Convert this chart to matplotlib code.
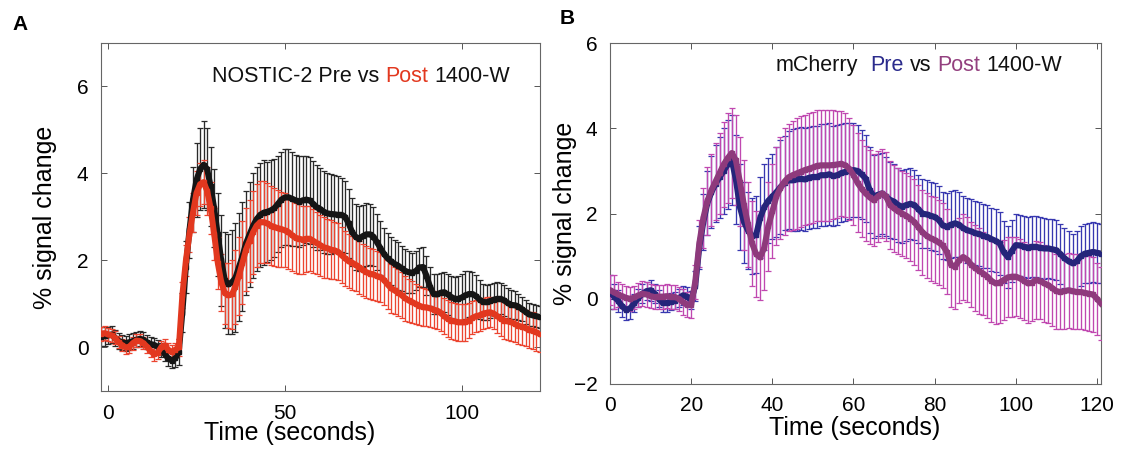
import matplotlib
matplotlib.use("Agg")
import matplotlib.pyplot as plt
import numpy as np

plt.rcParams['font.family'] = ['Liberation Sans', 'DejaVu Sans']

# ---- panel A : NOSTIC-2, time -2..122 s ----
time_a = np.arange(-2, 123)
a_pre = [0.25, 0.26, 0.28, 0.30, 0.22, 0.15, 0.12, 0.10, 0.12, 0.15,
         0.18, 0.20, 0.18, 0.12, 0.08, 0.06, 0.02, -0.05, -0.15, -0.25,
         -0.30, -0.25, -0.10, 0.80, 1.85, 2.70, 3.40, 3.85, 4.10, 4.20,
         4.10, 3.70, 3.20, 2.60, 2.00, 1.55, 1.45, 1.50, 1.60, 1.85,
         2.10, 2.40, 2.60, 2.80, 2.95, 3.05, 3.10, 3.12, 3.15, 3.20,
         3.30, 3.40, 3.45, 3.45, 3.42, 3.38, 3.35, 3.38, 3.40, 3.38,
         3.30, 3.22, 3.18, 3.12, 3.08, 3.07, 3.06, 3.05, 3.05, 3.00,
         2.85, 2.65, 2.54, 2.50, 2.56, 2.60, 2.60, 2.55, 2.42, 2.28,
         2.15, 2.05, 1.98, 1.92, 1.88, 1.82, 1.76, 1.73, 1.72, 1.76,
         1.84, 1.85, 1.65, 1.40, 1.23, 1.22, 1.26, 1.27, 1.22, 1.16,
         1.12, 1.12, 1.15, 1.20, 1.23, 1.23, 1.18, 1.10, 1.05, 1.04,
         1.07, 1.10, 1.12, 1.12, 1.08, 1.02, 0.98, 0.97, 0.94, 0.88,
         0.82, 0.76, 0.74, 0.72, 0.70]
a_post = [0.32, 0.33, 0.30, 0.28, 0.22, 0.12, 0.05, 0.00, 0.02, 0.10,
          0.16, 0.15, 0.10, 0.02, -0.08, -0.15, -0.12, 0.00, 0.05, -0.05,
          -0.10, -0.05, 0.00, 1.20, 2.00, 2.60, 3.10, 3.55, 3.75, 3.80,
          3.60, 3.20, 2.60, 1.95, 1.50, 1.25, 1.20, 1.22, 1.40, 1.65,
          1.95, 2.25, 2.45, 2.65, 2.80, 2.88, 2.88, 2.85, 2.80, 2.77,
          2.74, 2.72, 2.69, 2.65, 2.58, 2.52, 2.50, 2.48, 2.50, 2.50,
          2.45, 2.40, 2.35, 2.30, 2.28, 2.25, 2.23, 2.20, 2.12, 2.05,
          1.98, 1.95, 1.90, 1.84, 1.78, 1.73, 1.70, 1.68, 1.64, 1.62,
          1.55, 1.45, 1.36, 1.31, 1.26, 1.20, 1.13, 1.08, 1.04, 1.00,
          0.96, 0.93, 0.92, 0.90, 0.87, 0.85, 0.80, 0.72, 0.66, 0.62,
          0.60, 0.58, 0.58, 0.58, 0.62, 0.68, 0.72, 0.74, 0.78, 0.80,
          0.81, 0.78, 0.72, 0.66, 0.62, 0.60, 0.58, 0.54, 0.50, 0.48,
          0.45, 0.40, 0.39, 0.35, 0.31]
a_pre_err = [0.22, 0.22, 0.20, 0.20, 0.18, 0.18, 0.17, 0.17, 0.18, 0.18,
             0.18, 0.17, 0.17, 0.16, 0.16, 0.15, 0.15, 0.16, 0.17, 0.18,
             0.18, 0.20, 0.30, 0.45, 0.60, 0.65, 0.75, 0.85, 0.95, 1.00,
             0.95, 0.90, 0.90, 0.95, 1.05, 1.10, 1.15, 1.20, 1.25, 1.25,
             1.25, 1.20, 1.20, 1.20, 1.20, 1.20, 1.20, 1.15, 1.15, 1.12,
             1.10, 1.10, 1.10, 1.10, 1.08, 1.05, 1.05, 1.02, 1.00, 1.00,
             0.98, 0.97, 0.95, 0.94, 0.93, 0.92, 0.90, 0.88, 0.85, 0.82,
             0.80, 0.78, 0.75, 0.74, 0.72, 0.72, 0.70, 0.68, 0.65, 0.62,
             0.60, 0.58, 0.55, 0.55, 0.55, 0.52, 0.50, 0.48, 0.46, 0.45,
             0.45, 0.45, 0.45, 0.45, 0.45, 0.46, 0.46, 0.46, 0.47, 0.48,
             0.50, 0.52, 0.55, 0.55, 0.52, 0.50, 0.48, 0.45, 0.42, 0.40,
             0.40, 0.38, 0.38, 0.36, 0.35, 0.34, 0.33, 0.32, 0.30, 0.28,
             0.27, 0.26, 0.25, 0.25, 0.25]
a_post_err = [0.16, 0.16, 0.15, 0.15, 0.15, 0.14, 0.14, 0.14, 0.15, 0.15,
              0.15, 0.15, 0.14, 0.14, 0.14, 0.15, 0.15, 0.15, 0.15, 0.15,
              0.15, 0.16, 0.20, 0.30, 0.35, 0.40, 0.45, 0.50, 0.50, 0.50,
              0.55, 0.60, 0.60, 0.60, 0.65, 0.70, 0.75, 0.80, 0.85, 0.90,
              0.95, 0.95, 0.95, 0.95, 0.95, 0.95, 0.95, 0.92, 0.90, 0.90,
              0.88, 0.86, 0.85, 0.84, 0.82, 0.80, 0.80, 0.78, 0.76, 0.75,
              0.74, 0.72, 0.70, 0.70, 0.68, 0.67, 0.66, 0.65, 0.64, 0.63,
              0.62, 0.62, 0.61, 0.60, 0.60, 0.60, 0.59, 0.58, 0.58, 0.57,
              0.57, 0.56, 0.56, 0.55, 0.54, 0.53, 0.52, 0.50, 0.48, 0.46,
              0.45, 0.44, 0.43, 0.42, 0.42, 0.42, 0.42, 0.42, 0.42, 0.42,
              0.42, 0.42, 0.42, 0.42, 0.40, 0.38, 0.36, 0.35, 0.35, 0.35,
              0.35, 0.36, 0.38, 0.40, 0.42, 0.42, 0.42, 0.42, 0.42, 0.42,
              0.42, 0.42, 0.42, 0.42, 0.42]

# ---- panel B : mCherry, time 0..121 s ----
time_b = np.arange(0, 122)
b_pre = [0.15, 0.05, -0.05, -0.18, -0.26, -0.22, -0.10, 0.02, 0.12, 0.18,
         0.20, 0.12, 0.00, -0.10, -0.10, -0.07, -0.05, 0.02, 0.08, 0.05,
         -0.03, 0.30, 1.20, 1.80, 2.25, 2.50, 2.70, 2.85, 3.00, 3.15,
         3.25, 2.80, 2.15, 1.80, 1.60, 1.47, 1.50, 1.90, 2.15, 2.30,
         2.40, 2.50, 2.62, 2.72, 2.78, 2.78, 2.80, 2.82, 2.80, 2.84,
         2.86, 2.86, 2.90, 2.90, 2.92, 2.88, 2.90, 2.95, 2.98, 3.00,
         3.02, 3.00, 2.92, 2.82, 2.55, 2.40, 2.44, 2.47, 2.40, 2.32,
         2.28, 2.20, 2.16, 2.20, 2.23, 2.20, 2.10, 2.00, 1.98, 1.95,
         1.92, 1.85, 1.72, 1.69, 1.74, 1.77, 1.74, 1.66, 1.61, 1.58,
         1.54, 1.52, 1.48, 1.45, 1.40, 1.36, 1.30, 1.10, 0.98, 1.12,
         1.26, 1.25, 1.22, 1.20, 1.22, 1.22, 1.20, 1.18, 1.18, 1.16,
         1.14, 1.05, 0.95, 0.88, 0.83, 0.88, 1.00, 1.06, 1.08, 1.10,
         1.08, 1.06]
b_post = [0.20, 0.15, 0.10, 0.06, 0.02, 0.00, 0.03, 0.08, 0.12, 0.10,
          0.06, 0.04, 0.05, 0.05, 0.06, 0.05, 0.04, 0.00, -0.08, -0.14,
          -0.15, 0.40, 1.30, 1.90, 2.30, 2.55, 2.75, 2.95, 3.15, 3.30,
          3.42, 3.25, 2.75, 2.20, 1.75, 1.30, 1.05, 0.97, 1.20, 1.70,
          2.05, 2.40, 2.60, 2.75, 2.85, 2.90, 2.94, 2.98, 3.02, 3.05,
          3.08, 3.12, 3.13, 3.13, 3.13, 3.14, 3.15, 3.17, 3.13, 3.05,
          2.90, 2.72, 2.58, 2.47, 2.38, 2.31, 2.40, 2.47, 2.40, 2.20,
          2.12, 2.05, 2.00, 1.95, 1.88, 1.80, 1.68, 1.56, 1.48, 1.42,
          1.38, 1.32, 1.25, 1.10, 0.80, 0.75, 0.90, 0.98, 0.92, 0.80,
          0.72, 0.65, 0.59, 0.52, 0.42, 0.36, 0.38, 0.44, 0.50, 0.52,
          0.52, 0.48, 0.42, 0.36, 0.38, 0.44, 0.42, 0.36, 0.32, 0.25,
          0.18, 0.16, 0.18, 0.20, 0.18, 0.16, 0.16, 0.14, 0.12, 0.10,
          0.00, -0.11]
b_pre_err = [0.40, 0.30, 0.25, 0.25, 0.25, 0.25, 0.22, 0.22, 0.22, 0.22,
             0.25, 0.22, 0.20, 0.20, 0.20, 0.20, 0.20, 0.22, 0.22, 0.22,
             0.22, 0.35, 0.50, 0.65, 0.75, 0.85, 0.90, 0.95, 1.00, 1.05,
             1.05, 1.05, 1.00, 0.95, 0.90, 0.90, 0.90, 0.95, 1.00, 1.00,
             1.00, 1.05, 1.10, 1.10, 1.15, 1.20, 1.20, 1.20, 1.20, 1.20,
             1.20, 1.20, 1.20, 1.20, 1.20, 1.18, 1.18, 1.16, 1.15, 1.12,
             1.10, 1.08, 1.05, 1.02, 1.00, 0.98, 0.96, 0.94, 0.92, 0.90,
             0.88, 0.86, 0.85, 0.84, 0.83, 0.82, 0.80, 0.80, 0.80, 0.80,
             0.80, 0.80, 0.78, 0.78, 0.78, 0.78, 0.76, 0.76, 0.76, 0.75,
             0.75, 0.75, 0.75, 0.74, 0.74, 0.74, 0.74, 0.73, 0.73, 0.73,
             0.73, 0.72, 0.72, 0.72, 0.72, 0.72, 0.71, 0.71, 0.70, 0.70,
             0.70, 0.70, 0.70, 0.70, 0.70, 0.70, 0.70, 0.70, 0.70, 0.70,
             0.70, 0.70]
b_post_err = [0.35, 0.40, 0.30, 0.28, 0.28, 0.28, 0.28, 0.28, 0.30, 0.30,
              0.28, 0.28, 0.28, 0.28, 0.28, 0.28, 0.28, 0.28, 0.30, 0.30,
              0.30, 0.40, 0.55, 0.70, 0.80, 0.85, 0.90, 0.95, 1.00, 1.05,
              1.05, 1.05, 1.05, 1.05, 1.00, 1.00, 1.00, 1.00, 1.00, 1.05,
              1.10, 1.15, 1.20, 1.25, 1.25, 1.28, 1.30, 1.30, 1.30, 1.30,
              1.30, 1.30, 1.30, 1.30, 1.30, 1.28, 1.26, 1.24, 1.22, 1.20,
              1.18, 1.16, 1.14, 1.12, 1.10, 1.08, 1.06, 1.05, 1.04, 1.03,
              1.02, 1.01, 1.00, 1.00, 1.00, 1.00, 1.00, 1.00, 1.00, 1.00,
              1.00, 1.00, 1.00, 1.00, 1.00, 1.00, 1.00, 1.00, 1.00, 1.00,
              1.00, 1.00, 0.98, 0.98, 0.96, 0.96, 0.95, 0.95, 0.94, 0.94,
              0.93, 0.93, 0.92, 0.92, 0.91, 0.91, 0.90, 0.90, 0.90, 0.90,
              0.88, 0.88, 0.88, 0.88, 0.88, 0.88, 0.88, 0.88, 0.88, 0.88,
              0.85, 0.85]

fig = plt.figure(figsize=(11.22, 4.51), dpi=100)
ax_a = fig.add_axes([0.090, 0.133, 0.391, 0.772])
ax_b = fig.add_axes([0.5437, 0.1486, 0.4376, 0.756])


def draw_pair(ax, t, m1, e1, m2, e2, c1, ec1, c2, ec2):
    ax.errorbar(t, m1, yerr=e1, fmt='none', ecolor=ec1, elinewidth=0.95,
                capsize=2.4, capthick=0.9, zorder=2)
    ax.errorbar(t, m2, yerr=e2, fmt='none', ecolor=ec2, elinewidth=0.95,
                capsize=2.4, capthick=0.9, zorder=3)
    ax.plot(t, m1, color=c1, lw=4.3, marker='s', ms=3, zorder=4)
    ax.plot(t, m2, color=c2, lw=4.3, marker='s', ms=3, zorder=5)


def colored_text(ax, x, y, pieces, size=15.5):
    first = pieces[0]
    txt = ax.text(x, y, first[0], color=first[1], fontsize=size,
                  transform=ax.transAxes, va='bottom', ha='left')
    for s, c, gap in pieces[1:]:
        txt = ax.annotate(s, xy=(1, 0), xycoords=txt, xytext=(gap, 0),
                          textcoords='offset points', color=c,
                          fontsize=size, va='bottom', ha='left')


def style(ax):
    for sp in ax.spines.values():
        sp.set_color('#666666')
        sp.set_linewidth(0.8)
    ax.tick_params(direction='in', top=True, right=True, length=4,
                   width=0.7, color='#555555', labelsize=15, pad=9)


draw_pair(ax_a, time_a, a_pre, a_pre_err, a_post, a_post_err,
          '#151515', '#2a2a2a', '#e2381f', '#ec4530')
ax_a.set_xlim(-2, 122)
ax_a.set_ylim(-1, 7)
ax_a.set_xticks([0, 50, 100])
ax_a.set_yticks([0, 2, 4, 6])
style(ax_a)
ax_a.set_xlabel('Time (seconds)', fontsize=18)
ax_a.set_ylabel('% signal change', fontsize=18)
ax_a.xaxis.set_label_coords(0.43, -0.086)
ax_a.yaxis.set_label_coords(-0.10, 0.5)
colored_text(ax_a, 0.253, 0.872, [('NOSTIC-2 Pre vs', '#111111'),
                                  ('Post', '#e2381f', 4.3),
                                  ('1400-W', '#111111', 4.3)])

draw_pair(ax_b, time_b, b_pre, b_pre_err, b_post, b_post_err,
          '#25257a', '#3838b0', '#8e3a7c', '#c048b0')
ax_b.set_xlim(0, 121)
ax_b.set_ylim(-2, 6)
ax_b.set_xticks([0, 20, 40, 60, 80, 100, 120])
ax_b.set_yticks([-2, 0, 2, 4, 6])
style(ax_b)
ax_b.set_xlabel('Time (seconds)', fontsize=18)
ax_b.set_ylabel('% signal change', fontsize=18)
ax_b.xaxis.set_label_coords(0.499, -0.094)
ax_b.yaxis.set_label_coords(-0.067, 0.5)
colored_text(ax_b, 0.338, 0.903, [('mCherry', '#111111'),
                                  ('Pre', '#2b2b8c', 8.6),
                                  ('vs', '#111111', 4.3),
                                  ('Post', '#93407f', 4.3),
                                  ('1400-W', '#111111', 4.3)])

fig.text(20 / 1122, 1 - 24 / 451, 'A', fontsize=15, fontweight='bold',
         ha='center', va='center')
fig.text(567 / 1122, 1 - 19 / 451, 'B', fontsize=15, fontweight='bold',
         ha='center', va='center')

fig.savefig('out.png', dpi=100)
